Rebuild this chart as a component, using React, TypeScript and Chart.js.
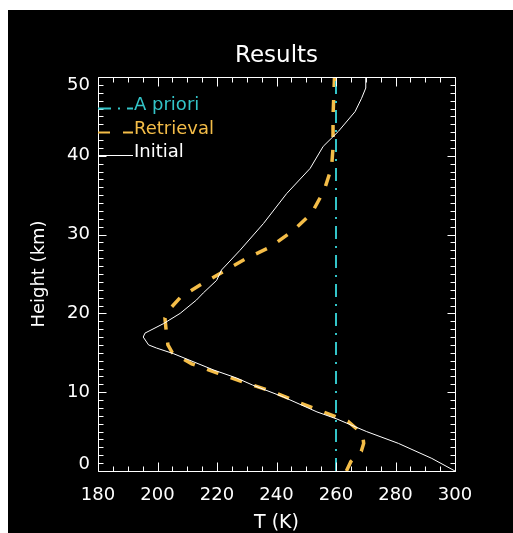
import React, { useEffect, useRef } from "react";
import { Chart, registerables } from "chart.js";

Chart.register(...registerables);

const FONT = "'DejaVu Sans', sans-serif";

const TITLE = "Results";
const X_TITLE = "T (K)";
const Y_TITLE = "Height (km)";

const X_MIN = 180;
const X_MAX = 300;
const X_STEP = 20;
const X_MINOR = 5;
const Y_MIN = 0;
const Y_MAX = 50;
const Y_STEP = 10;
const Y_MINOR = 1;

// A priori profile (constant temperature)
const aprioriT = [260, 260];
const aprioriH = [0, 50];

// Retrieved profile
const retrievalT = [
  263.5, 265, 268.5, 269.3, 269, 266.5, 264, 255.7, 246.8, 238.4, 228.7, 220.4,
  211.5, 205, 203.5, 203, 202.5, 204, 207.6, 214.3, 222.1, 230, 237.8, 245.6,
  251.8, 256, 258.5, 259, 259, 259.5,
];
const retrievalH = [
  0, 1.2, 2.5, 3.5, 4.5, 5.5, 6.3, 7.5, 8.8, 10.1, 11.3, 12.4, 13.6, 15.0, 16.0,
  17.5, 19.4, 20.5, 22.0, 23.6, 25.3, 27.0, 28.4, 30.5, 32.7, 35.6, 38.5, 41,
  45, 50,
];

// Initial profile
const initialT = [
  300, 292.2, 281, 270.3, 260.3, 253.6, 242.3, 232, 226.6, 219, 205.3, 199.7,
  197, 195.2, 195.8, 202, 207.6, 213.1, 215.4, 219.9, 221.5, 227.7, 235.6,
  243.4, 251.3, 255.7, 260.8, 266.4, 268.6, 270, 270,
];
const initialH = [
  0, 1.6, 3.5, 5.0, 6.6, 7.5, 9.4, 10.9, 11.8, 12.8, 14.9, 15.6, 16.0, 17.0,
  17.5, 18.7, 20.0, 21.7, 22.6, 24.2, 25.5, 28.0, 31.4, 35.2, 38.4, 41.2, 43.1,
  45.6, 47.3, 48.6, 50,
];

const LEGEND_ORDER = ["A priori", "Retrieval", "Initial"];

const COLOR_APRIORI = "#33c4c8";
const COLOR_RETRIEVAL = "#f4bd48";
const COLOR_INITIAL = "#ffffff";

function toPoints(xs: number[], ys: number[]) {
  return xs.map((x, i) => ({ x, y: ys[i] }));
}

const idlFrame = {
  id: "idlFrame",
  afterDatasetsDraw(chart: any) {
    const { ctx, chartArea: a, scales } = chart;
    const xs = scales.x;
    const ys = scales.y;
    ctx.save();
    ctx.strokeStyle = "#ffffff";
    ctx.lineWidth = 1;
    ctx.setLineDash([]);
    ctx.beginPath();
    const L = Math.round(a.left) + 0.5;
    const R = Math.round(a.right) + 0.5;
    const T = Math.round(a.top) + 0.5;
    const B = Math.round(a.bottom) + 0.5;
    ctx.moveTo(L, T);
    ctx.lineTo(R, T);
    ctx.lineTo(R, B);
    ctx.lineTo(L, B);
    ctx.closePath();
    for (let v = X_MIN; v <= X_MAX + 1e-9; v += X_MINOR) {
      const px = Math.round(xs.getPixelForValue(v)) + 0.5;
      const len = v % X_STEP === 0 ? 9 : 5;
      ctx.moveTo(px, B);
      ctx.lineTo(px, B - len);
      ctx.moveTo(px, T);
      ctx.lineTo(px, T + len);
    }
    for (let v = Y_MIN; v <= Y_MAX + 1e-9; v += Y_MINOR) {
      const py = Math.round(ys.getPixelForValue(v)) + 0.5;
      const len = v % Y_STEP === 0 ? 8 : 5;
      ctx.moveTo(L, py);
      ctx.lineTo(L + len, py);
      ctx.moveTo(R, py);
      ctx.lineTo(R - len, py);
    }
    ctx.stroke();

    // Legend (IDL style: short line sample at text baseline, then label)
    ctx.font = `18px ${FONT}`;
    ctx.textBaseline = "alphabetic";
    ctx.textAlign = "left";
    LEGEND_ORDER.forEach((label, i) => {
      const ds = chart.data.datasets.find((d: any) => d.label === label);
      if (!ds) return;
      const baseY = Math.round(a.top + 31 + i * 23.5) + 0.5;
      ctx.strokeStyle = ds.borderColor;
      ctx.lineWidth = Math.min(ds.borderWidth, 2);
      ctx.setLineDash(ds.borderDash || []);
      ctx.beginPath();
      ctx.moveTo(a.left, baseY);
      ctx.lineTo(a.left + 35, baseY);
      ctx.stroke();
      ctx.setLineDash([]);
      ctx.fillStyle = ds.borderColor;
      ctx.fillText(label, a.left + 36, baseY + 1);
    });
    ctx.restore();
  },
};

export default function App() {
  const ref = useRef<HTMLCanvasElement | null>(null);

  useEffect(() => {
    if (!ref.current) return;
    const chart = new Chart(ref.current, {
      type: "scatter",
      data: {
        datasets: [
          {
            label: "Initial",
            data: toPoints(initialT, initialH),
            showLine: true,
            borderColor: COLOR_INITIAL,
            borderWidth: 1,
            pointRadius: 0,
            fill: false,
            clip: false,
            order: 0,
          } as any,
          {
            label: "A priori",
            data: toPoints(aprioriT, aprioriH),
            showLine: true,
            borderColor: COLOR_APRIORI,
            borderWidth: 2,
            borderDash: [13, 7, 2, 7],
            pointRadius: 0,
            fill: false,
            clip: false,
            order: 1,
          } as any,
          {
            label: "Retrieval",
            data: toPoints(retrievalT, retrievalH),
            showLine: true,
            borderColor: COLOR_RETRIEVAL,
            borderWidth: 3.5,
            borderDash: [12, 13],
            borderCapStyle: "butt",
            pointRadius: 0,
            fill: false,
            clip: false,
            order: 2,
          } as any,
        ],
      },
      options: {
        responsive: false,
        animation: false,
        events: [],
        layout: { padding: { left: 0, top: 0, right: 58, bottom: 0 } },
        plugins: {
          legend: { display: false },
          tooltip: { enabled: false },
          title: {
            display: true,
            text: TITLE,
            color: "#ffffff",
            fullSize: false,
            font: { family: FONT, size: 23, weight: "normal", lineHeight: "27px" },
            padding: { top: 33, bottom: 7 },
          },
        },
        scales: {
          x: {
            type: "linear",
            position: "bottom",
            min: X_MIN,
            max: X_MAX,
            grid: { display: false, drawTicks: false },
            border: { display: false },
            afterFit: (s: any) => {
              s.height = 62;
            },
            ticks: {
              stepSize: X_STEP,
              autoSkip: false,
              maxRotation: 0,
              color: "#ffffff",
              padding: 14,
              font: { family: FONT, size: 18, lineHeight: 1.2 },
            },
            title: {
              display: true,
              text: X_TITLE,
              color: "#ffffff",
              font: { family: FONT, size: 19, lineHeight: "18px" },
              padding: { top: 0, bottom: 1 },
            },
          },
          y: {
            type: "linear",
            position: "left",
            min: Y_MIN,
            max: Y_MAX,
            grid: { display: false, drawTicks: false },
            border: { display: false },
            afterFit: (s: any) => {
              s.width = 90;
            },
            ticks: {
              stepSize: Y_STEP,
              autoSkip: false,
              color: "#ffffff",
              padding: 8,
              callback: (v: any) =>
                v === Y_MIN ? [String(v), ""] : v === Y_MAX ? ["", String(v)] : String(v),
              font: (c: any) => ({
                family: FONT,
                size: 18,
                lineHeight:
                  c.tick && c.tick.value === Y_MIN
                    ? "14px"
                    : c.tick && c.tick.value === Y_MAX
                    ? "16px"
                    : 1.2,
              }),
            },
            title: {
              display: true,
              text: Y_TITLE,
              color: "#ffffff",
              font: { family: FONT, size: 18, lineHeight: 1.2 },
              padding: { top: 21, bottom: 0 },
            },
          },
        },
      } as any,
      plugins: [idlFrame],
    });
    return () => chart.destroy();
  }, []);

  return (
    <div
      style={{
        position: "fixed",
        left: 8,
        top: 10,
        width: 505,
        height: 523,
        background: "#000000",
        overflow: "hidden",
      }}
    >
      <canvas ref={ref} width={505} height={523} style={{ display: "block" }} />
    </div>
  );
}
